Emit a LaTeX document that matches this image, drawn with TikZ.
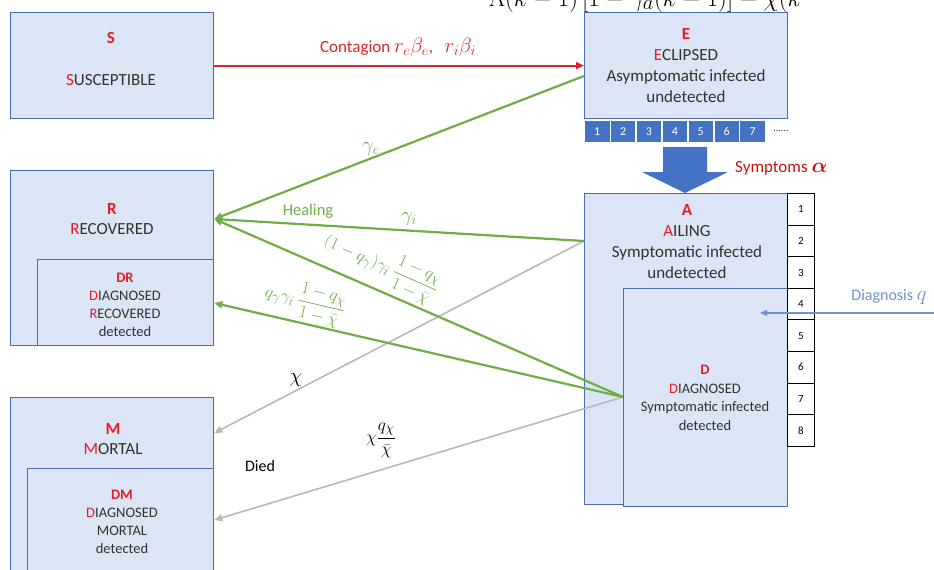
\documentclass[tikz,border=0pt]{standalone}
\usepackage{amsmath}
\usepackage{fontspec}
\setmainfont{Carlito}
\usetikzlibrary{arrows.meta}
\definecolor{boxfill}{RGB}{220,229,245}
\definecolor{boxline}{RGB}{74,108,172}
\definecolor{sqblue}{RGB}{68,114,196}
\definecolor{tred}{RGB}{232,28,36}
\definecolor{cred}{RGB}{222,36,40}
\definecolor{symred}{RGB}{196,20,20}
\definecolor{hgreen}{RGB}{112,173,71}
\definecolor{dgrey}{RGB}{184,184,184}
\definecolor{diagblue}{RGB}{110,148,204}
\definecolor{txt}{RGB}{50,50,50}
\tikzset{
  box/.style={draw=boxline, fill=boxfill, line width=1.3pt, anchor=north west, inner sep=0pt},
  boxtext/.style={align=center, text=txt, inner sep=0pt},
  bigtext/.style={boxtext, font=\fontsize{17}{21}\selectfont},
  smalltext/.style={boxtext, font=\fontsize{14.5}{18}\selectfont},
  numsq/.style={fill=sqblue, draw=white, line width=0.8pt, minimum width=25.5pt, minimum height=22pt, inner sep=0pt, text=white, font=\fontsize{12}{12}\selectfont},
  numcell/.style={fill=white, draw=black, line width=1pt, minimum width=27pt, minimum height=31.6pt, inner sep=0pt, anchor=north west, font=\fontsize{11}{11}\selectfont},
  tip/.style={-{Triangle[length=8pt,width=7pt]}},
  redarr/.style={tip, draw=cred, line width=1.8pt},
  greenarr/.style={tip, draw=hgreen, line width=2.2pt},
  greyarr/.style={tip, draw=dgrey, line width=1.6pt},
  bluearr/.style={-{Triangle[length=7pt,width=6pt]}, draw=diagblue, line width=1.2pt},
  glabel/.style={text=hgreen, font=\fontsize{21}{21}\selectfont, inner sep=0pt},
  flabel/.style={text=hgreen, font=\fontsize{19}{19}\selectfont, inner sep=0pt},
  klabel/.style={text=black, font=\fontsize{22}{22}\selectfont, inner sep=0pt},
}
\newcommand{\RL}[1]{\textcolor{tred}{#1}}
\newcommand{\TL}[1]{\textcolor{tred}{\textbf{#1}}}
\newcommand{\BigMath}[1]{{\fontsize{22}{22}\selectfont$#1$}}
\begin{document}
\begin{tikzpicture}[x=1pt,y=-1pt]
\useasboundingbox (0,0) rectangle (934,570);
\clip (0,0) rectangle (934,570);
% cut-off formula at the top
\node[anchor=base west, inner sep=0pt, font=\fontsize{32}{32}\selectfont] (formula) at (489,6) {$\Lambda(k-1)\,[1-\gamma_a(k-1)]-\chi(k$};
% boxes
\node[box, minimum width=203pt, minimum height=106pt] (S) at (10,12) {};
\node[box, minimum width=203pt, minimum height=106pt] (E) at (584,12) {};
\node[box, minimum width=203pt, minimum height=175pt] (R) at (10,170) {};
\node[box, minimum width=176pt, minimum height=86pt] (DR) at (37,259) {};
\node[box, minimum width=203pt, minimum height=190pt] (M) at (10,397) {};
\node[box, minimum width=186pt, minimum height=120pt] (DM) at (27,468) {};
\node[box, minimum width=203pt, minimum height=311pt] (A) at (584,193) {};
\node[box, minimum width=164pt, minimum height=218pt] (D) at (623,288) {};
% box texts
\node[bigtext] (Stitle) at (111,38) {\TL{S}};
\node[bigtext] (Sname) at (111,80) {\RL{S}USCEPTIBLE};
\node[bigtext] (Etext) at (686,66) {\TL{E}\\\RL{E}CLIPSED\\Asymptomatic infected\\undetected};
\node[bigtext, font=\fontsize{17}{20}\selectfont] (Rtext) at (112,219) {\TL{R}\\\RL{R}ECOVERED};
\node[smalltext] (DRtext) at (125,305) {\TL{DR}\\\RL{D}IAGNOSED\\\RL{R}ECOVERED\\detected};
\node[bigtext, font=\fontsize{17}{20}\selectfont] (Mtext) at (113,439) {\TL{M}\\\RL{M}ORTAL};
\node[smalltext] (DMtext) at (122,522) {\TL{DM}\\\RL{D}IAGNOSED\\MORTAL\\detected};
\node[bigtext] (Atext) at (687,242) {\TL{A}\\\RL{A}ILING\\Symptomatic infected\\undetected};
\node[smalltext, font=\fontsize{14.5}{18.5}\selectfont] (Dtext) at (705,398) {\TL{D}\\\RL{D}IAGNOSED\\Symptomatic infected\\detected};
% numbered squares under E
\foreach \i in {1,...,7}{
  \node[numsq, anchor=north west] (sq\i) at ({584+(\i-1)*25.9},120) {\i};
}
\node[text=txt, inner sep=0pt, font=\fontsize{10}{10}\selectfont] (dots) at (781,131) {......};
% numbered column beside A
\foreach \i in {1,...,8}{
  \node[numcell] (c\i) at (787,{193+(\i-1)*31.6}) {\i};
}
% big blue arrow
\fill[sqblue] (663,147) -- (707,147) -- (707,172) -- (728,172) -- (685,193) -- (642,172) -- (663,172) -- cycle;
\node[anchor=west, text=symred, inner sep=0pt, font=\fontsize{17}{17}\selectfont] (symp) at (735,168) {Symptoms \BigMath{\boldsymbol{\alpha}}};
% anchor coordinates
\coordinate (Eout) at ([yshift=-64pt]E.north west);
\coordinate (Aout) at ([yshift=-48pt]A.north west);
\coordinate (Dout) at ([yshift=-109pt]D.north west);
\coordinate (Rin) at ([yshift=-49pt]R.north east);
\coordinate (DRin) at ([yshift=-44pt]DR.north east);
\coordinate (Min) at ([yshift=-36pt]M.north east);
\coordinate (DMin) at ([yshift=-52pt]DM.north east);
\coordinate (Dq) at (934,313);
\coordinate (Dqend) at (760,313);
% connectors
\draw[redarr] (S.east) -- (E.west);
\draw[greyarr] (Aout) -- (Min);
\draw[greyarr] (Dout) -- (DMin);
\draw[greenarr] (Eout) -- (Rin);
\draw[greenarr] (Aout) -- (Rin);
\draw[greenarr] (Dout) -- (Rin);
\draw[greenarr] (Dout) -- (DRin);
\draw[bluearr] (Dq) -- (Dqend);
% labels
\node[text=cred, inner sep=0pt, font=\fontsize{17}{17}\selectfont] (lcont) at (398,47) {Contagion \BigMath{r_e\beta_e},\ \ \ \BigMath{r_i\beta_i}};
\node[glabel] (lge) at (371,149) {$\gamma_e$};
\node[glabel, font=\fontsize{16.5}{16.5}\selectfont] (lheal) at (308,211) {Healing};
\node[glabel] (lgi) at (409,219) {$\gamma_i$};
\node[flabel, rotate=-24] (lf1) at (381,266) {$(1-q_\gamma)\gamma_i\,\dfrac{1-q_\chi}{1-\bar\chi}$};
\node[flabel, rotate=-13] (lf2) at (305,302) {$q_\gamma\gamma_i\,\dfrac{1-q_\chi}{1-\bar\chi}$};
\node[klabel] (lchi) at (296,380) {$\chi$};
\node[klabel, font=\fontsize{19}{19}\selectfont] (lchi2) at (381,440) {$\chi\dfrac{q_\chi}{\bar\chi}$};
\node[text=black, inner sep=0pt, font=\fontsize{16}{16}\selectfont] (ldied) at (260,466) {Died};
\node[text=diagblue, inner sep=0pt, font=\fontsize{16}{16}\selectfont] (ldiag) at (889,297) {Diagnosis \BigMath{q}};
\end{tikzpicture}
\end{document}
